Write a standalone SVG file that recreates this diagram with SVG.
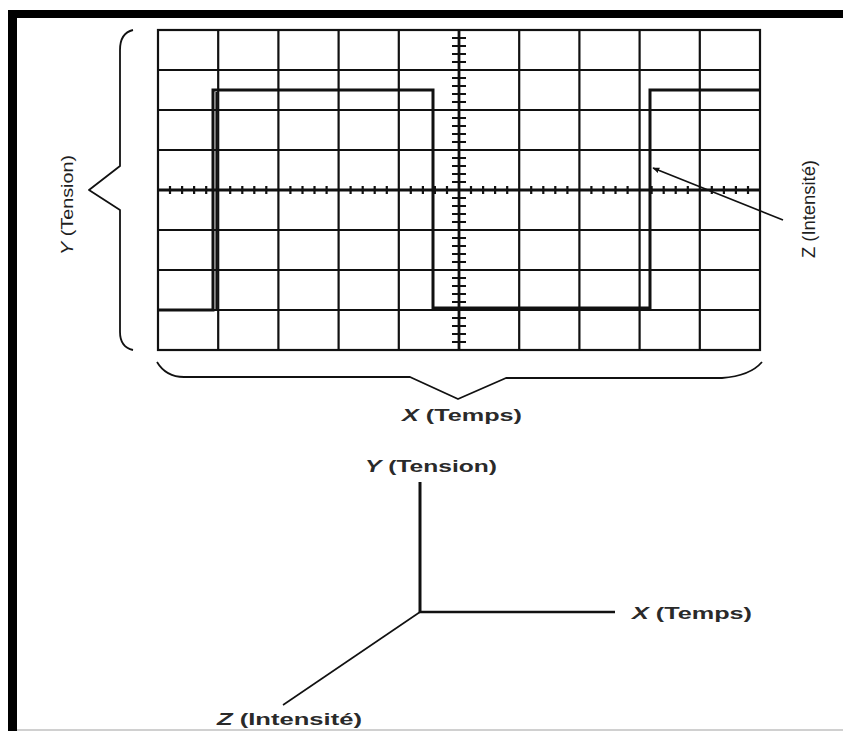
<svg xmlns="http://www.w3.org/2000/svg" width="843" height="731" viewBox="0 0 843 731">
<defs>
<style>
.grid{stroke:#111;stroke-width:2.2;fill:none}
.axis{stroke:#111;stroke-width:2.8;fill:none}
.tick{stroke:#111;stroke-width:2.2;fill:none}
.wave{stroke:#111;stroke-width:3;fill:none}
.brace{stroke:#111;stroke-width:1.8;fill:none;stroke-linejoin:round}
.lbl{font-family:"Liberation Sans",Arial,sans-serif;font-weight:bold;fill:#2a2a2a}
.rot{font-family:"Liberation Sans",Arial,sans-serif;fill:#1e1e1e}
</style>
<marker id="ah" viewBox="0 0 10 10" refX="9" refY="5" markerWidth="7" markerHeight="7" orient="auto" markerUnits="userSpaceOnUse">
<path d="M0,1 L10,5 L0,9 z" fill="#111"/>
</marker>
</defs>
<rect x="0" y="0" width="843" height="731" fill="#fff"/>
<g id="frame">
<rect x="8" y="10" width="835" height="8" fill="#000"/>
<rect x="8" y="10" width="9" height="721" fill="#000"/>
<rect x="17" y="729" width="826" height="2" fill="#d0d0d0"/>
</g>
<g id="screen">
<rect class="grid" x="158" y="30" width="602" height="320"/>
<path class="grid" d="M218.2,30V350M278.4,30V350M338.6,30V350M398.8,30V350M519.2,30V350M579.4,30V350M639.6,30V350M699.8,30V350M158,70H760M158,110H760M158,150H760M158,230H760M158,270H760M158,310H760"/>
<path class="axis" d="M459,30V350M158,190H760"/>
<path class="tick" d="M170,186v8M182.1,186v8M194.1,186v8M206.2,186v8M230.2,186v8M242.3,186v8M254.3,186v8M266.3,186v8M290.4,186v8M302.5,186v8M314.5,186v8M326.6,186v8M350.6,186v8M362.7,186v8M374.7,186v8M386.8,186v8M410.8,186v8M422.9,186v8M434.9,186v8M447,186v8M471,186v8M483.1,186v8M495.1,186v8M507.2,186v8M531.2,186v8M543.3,186v8M555.3,186v8M567.4,186v8M591.4,186v8M603.5,186v8M615.5,186v8M627.6,186v8M651.6,186v8M663.7,186v8M675.7,186v8M687.8,186v8M711.8,186v8M723.9,186v8M735.9,186v8M748,186v8"/>
<path class="tick" d="M452,38h14M452,46h14M452,54h14M452,62h14M452,78h14M452,86h14M452,94h14M452,102h14M452,118h14M452,126h14M452,134h14M452,142h14M452,158h14M452,166h14M452,174h14M452,182h14M452,198h14M452,206h14M452,214h14M452,222h14M452,238h14M452,246h14M452,254h14M452,262h14M452,278h14M452,286h14M452,294h14M452,302h14M452,318h14M452,326h14M452,334h14M452,342h14"/>
</g>
<g id="waveform">
<path class="wave" d="M158,310H213V90H433V308H650V90H760"/>
<path class="grid" d="M216.5,92V310"/>
</g>
<g id="braces">
<path class="brace" d="M133,30Q120,33 120,50V166L89,190L120,210V332Q120,347 133,350"/>
<path class="brace" d="M157,362Q166,377 184,377H410L458,399L506,378H722Q750,376 762,362"/>
</g>
<g id="connectors">
<line x1="783" y1="220" x2="653" y2="168" stroke="#111" stroke-width="1.6" marker-end="url(#ah)"/>
</g>
<g id="labels-top">
<text class="rot" transform="translate(73,205) rotate(-90)" font-size="17" text-anchor="middle" textLength="100" lengthAdjust="spacingAndGlyphs"><tspan font-style="italic">Y</tspan> (Tension)</text>
<text class="rot" transform="translate(815,209) rotate(-90)" font-size="19" text-anchor="middle" textLength="98" lengthAdjust="spacingAndGlyphs">Z (Intensité)</text>
<text class="lbl" x="402" y="421" font-size="17" textLength="120" lengthAdjust="spacingAndGlyphs"><tspan font-style="italic">X</tspan> (Temps)</text>
</g>
<g id="axes3d">
<path d="M420,482V613" stroke="#111" stroke-width="3" fill="none"/>
<path d="M419,612H615" stroke="#111" stroke-width="2.5" fill="none"/>
<path d="M420,612L283,705" stroke="#111" stroke-width="1.6" fill="none"/>
</g>
<g id="labels-axes">
<text class="lbl" x="365" y="472" font-size="17" textLength="132" lengthAdjust="spacingAndGlyphs"><tspan font-style="italic">Y</tspan> (Tension)</text>
<text class="lbl" x="632" y="619" font-size="17" textLength="120" lengthAdjust="spacingAndGlyphs"><tspan font-style="italic">X</tspan> (Temps)</text>
<text class="lbl" x="217" y="725" font-size="17" textLength="145" lengthAdjust="spacingAndGlyphs"><tspan font-style="italic">Z</tspan> (Intensité)</text>
</g>
</svg>
